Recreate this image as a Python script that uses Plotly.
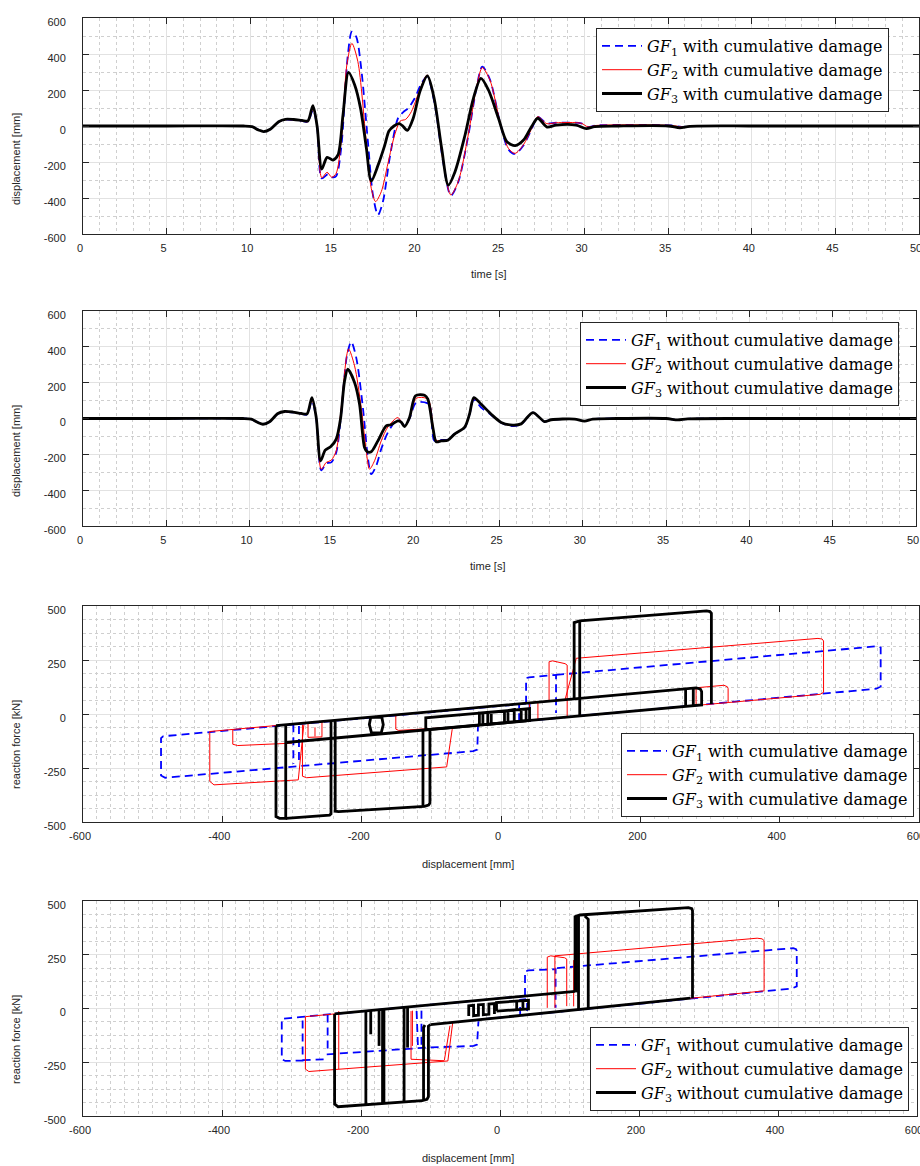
import plotly.graph_objects as go

# ---------------- Panel 1: displacement time histories, with cumulative damage ----------------
t_cd_gf1 = [0, 5, 9.6, 10.1, 10.5, 10.8, 11.2, 11.7, 12.1, 12.6, 13.1, 13.45, 13.75, 14.0, 14.28, 14.64, 14.9, 15.14,
            15.44, 15.84, 16.08, 16.34, 16.64, 17.04, 17.34, 17.64, 17.94, 18.34, 18.84, 19.14, 19.44, 19.84, 20.24,
            20.58, 21.04, 21.54, 22.0, 22.44, 23.04, 23.54, 23.88, 24.34, 24.94, 25.44, 25.84, 26.34, 26.84, 27.2,
            27.74, 28.3, 29.8, 30.2, 30.7, 35.2, 35.8, 36.5, 40, 50]
d_cd_gf1 = [0, 0, 0, -4, -22, -31, -18, 22, 35, 34, 29, 22, 90, 0, -291, -268, -285, -278,
            -124, 394, 524, 496, 320, -87, -383, -494, -420, -180, 43, 76, 98, 154, 237,
            274, 120, -200, -387, -312, -55, 215, 330, 258, 20, -130, -155, -108, -15, 50,
            15, 18, 15, -5, 3, 3, -5, 0, 0, 0]

t_cd_gf2 = [0, 5, 9.6, 10.1, 10.5, 10.8, 11.2, 11.7, 12.1, 12.6, 13.1, 13.45, 13.75, 14.0, 14.28, 14.6, 14.88, 15.14,
            15.44, 15.78, 16.08, 16.44, 16.94, 17.24, 17.5, 17.84, 18.24, 18.64, 18.98, 19.3, 19.64, 20.14, 20.58,
            21.04, 21.54, 22.0, 22.44, 23.04, 23.54, 23.88, 24.34, 24.94, 25.44, 25.84, 26.34, 26.84, 27.2, 27.74,
            28.3, 29.8, 30.2, 30.7, 35.2, 35.8, 36.5, 40, 50]
d_cd_gf2 = [0, 0, 0, -4, -22, -31, -18, 22, 35, 34, 29, 24, 95, 0, -287, -257, -285, -263,
            -87, 339, 459, 357, -87, -346, -420, -365, -207, -50, 28, 37, 80, 200, 283,
            126, -198, -383, -309, -50, 218, 324, 255, 24, -124, -152, -105, -13, 52, 13,
            18, 15, -5, 3, 3, -5, 0, 0, 0]

t_cd_gf3 = [0, 5, 9.6, 10.1, 10.5, 10.8, 11.2, 11.7, 12.1, 12.6, 13.1, 13.45, 13.75, 14.0, 14.28, 14.6, 14.95, 15.25,
            15.55, 15.88, 16.25, 16.6, 16.95, 17.24, 17.65, 18.05, 18.3, 18.6, 18.9, 19.1, 19.4, 19.75, 20.15, 20.6,
            21.0, 21.45, 21.85, 22.25, 22.85, 23.35, 23.8, 24.25, 24.85, 25.35, 25.85, 26.35, 26.85, 27.2, 27.75,
            28.3, 29.5, 30.1, 30.6, 32, 35, 35.7, 36.3, 40, 45, 50]
d_cd_gf3 = [0, 0, 0, -4, -22, -31, -18, 24, 37, 36, 31, 28, 113, 0, -239, -174, -189, -161,
            61, 298, 228, 98, -124, -306, -217, -106, -28, 0, 13, 2, -24, 43, 191, 278,
            154, -124, -328, -254, -50, 154, 265, 200, 43, -87, -109, -78, 0, 43, -6,
            5, 5, -15, -3, 0, 0, -10, -2, 0, 0, 0]

# ---------------- Panel 2: displacement time histories, without cumulative damage ----------------
t_nc_gf1 = [0, 5, 9.6, 10.1, 10.5, 10.8, 11.2, 11.7, 12.1, 12.6, 13.1, 13.45, 13.74, 14.0, 14.3, 14.6, 14.9, 15.2,
            15.5, 15.84, 16.1, 16.4, 16.8, 17.1, 17.3, 17.6, 17.9, 18.3, 18.9, 19.3, 19.6, 20.0, 20.66, 20.85, 21.1,
            21.5, 21.9, 22.3, 22.9, 23.2, 23.46, 23.9, 24.5, 25.1, 25.8, 26.3, 27.0, 27.7, 28.1, 29.5, 30.1, 30.6,
            32, 35, 35.7, 36.3, 40, 50]
d_nc_gf1 = [0, 0, 0, -4, -22, -32, -18, 26, 37, 34, 26, 22, 100, 0, -290, -250, -245, -190,
            30, 350, 428, 340, 61, -218, -311, -264, -171, -78, -4, -40, 0, 89, 86, 60, -125,
            -120, -118, -87, -52, 22, 105, 61, 20, -24, -42, -32, 33, -17, -7, -3, -15, -3,
            0, 0, -8, -2, 0, 0]

t_nc_gf2 = [0, 5, 9.6, 10.1, 10.5, 10.8, 11.2, 11.7, 12.1, 12.6, 13.1, 13.45, 13.74, 14.0, 14.3, 14.6, 14.9, 15.2,
            15.5, 15.94, 16.3, 16.7, 17.0, 17.2, 17.5, 17.9, 18.3, 18.9, 19.3, 19.6, 20.0, 20.6, 20.8, 21.2, 21.5,
            21.9, 22.3, 22.9, 23.2, 23.46, 23.9, 24.5, 25.1, 25.8, 26.3, 27.0, 27.7, 28.1, 29.5, 30.1, 30.6, 32,
            35, 35.7, 36.3, 40, 50]
d_nc_gf2 = [0, 0, 0, -4, -22, -32, -18, 26, 37, 34, 26, 24, 105, 0, -283, -245, -233, -180,
            61, 387, 294, 61, -180, -283, -236, -125, -47, 5, -45, 0, 113, 113, 90, -121, -122,
            -120, -87, -50, 24, 110, 80, 25, -24, -40, -32, 33, -17, -7, -3, -15, -3, 0,
            0, -8, -2, 0, 0]

t_nc_gf3 = [0, 5, 9.6, 10.1, 10.5, 10.8, 11.2, 11.7, 12.1, 12.6, 13.1, 13.45, 13.74, 14.0, 14.26, 14.54, 14.86, 15.2,
            15.46, 15.7, 15.9, 16.3, 16.6, 16.9, 17.06, 17.3, 17.7, 18.2, 18.5, 18.9, 19.1, 19.3, 19.6, 19.96, 20.5,
            20.7, 21.0, 21.2, 21.5, 21.9, 22.3, 22.9, 23.2, 23.46, 23.9, 24.5, 25.1, 25.8, 26.3, 27.0, 27.7, 28.1,
            29.5, 30.1, 30.6, 32, 35, 35.7, 36.3, 40, 45, 50]
d_nc_gf3 = [0, 0, 0, -4, -22, -32, -18, 28, 39, 36, 28, 26, 117, 5, -236, -177, -158, -115,
            0, 210, 275, 201, 80, -162, -186, -186, -125, -41, -35, -13, -20, -45, 6, 127, 130,
            108, -50, -130, -125, -121, -87, -50, 24, 117, 80, 24, -22, -37, -30, 33, -17, -7,
            -3, -15, -3, 0, 0, -8, -2, 0, 0, 0]

# ---------------- Panel 3: force-displacement loops, with cumulative damage ----------------
N = None
hx_cd_gf1 = [36, -485, -488, -488, -482, -40, -34, -33, N,
             36, 36, 40, 79, 79, N,
             79, 541, 545, 545, 539, -33, N,
             -298, -298, N, -290, -290, N,
             26, 26, 41, 41]
hy_cd_gf1 = [48, -103, -112, -285, -295, -172, -165, -52, N,
             48, 166, 170, 181, 5, N,
             181, 314, 308, 127, 117, -52, N,
             -48, -232, N, -56, -228, N,
             -34, 45, 50, -30]

hx_cd_gf2 = [320, -418, -418, -412, -291, -283, N,
             320, 325, 326, 326, -70, N,
             -285, -285, -279, -78, -70, N,
             -300, -378, -385, -385, N,
             -277, -277, -257, -257, N, -267, -267, N,
             -72, -147, -151, -151, -146, -72, N,
             41, 41, 53, 53, N,
             69, 69, 74, 92, 95, 95, N,
             92, 108, 455, 461, 463, 463, 458, 326, N,
             280, 280]
hy_cd_gf2 = [133, -81, -312, -328, -305, -50, N,
             133, 126, 118, 53, -62, N,
             -50, -288, -295, -245, -70, N,
             -135, -146, -140, -72, N,
             -42, -108, -106, -35, N, -104, -62, N,
             -62, -76, -70, -8, -3, 18, N,
             -30, 52, 55, -27, N,
             60, 242, 246, 233, 226, -14, N,
             67, 258, 350, 347, 338, 100, 91, 53, N,
             121, 39]

hx_cd_gf3 = [-323, 280, 286, 288, 288, -309, N,
             265, 265, N, 276, 276, N,
             105, 105, 113, 295, 300, 302, 302, N, 113, 113, N,
             -323, -323, -318, -309, -309, N,
             -309, -246, -244, -244, N,
             -238, -238, -233, -110, -104, -102, -102, N,
             -112, -112, N,
             -187, -189, -186, -172, -169, -171, -187, N,
             -31, -108, -108, -31, N,
             -31, -31, 41, 41, -26, -26, 36, 36, -19, -19, 29, 29, -14, -14, 19, 19, 5, 5, 10, 10]
hy_cd_gf3 = [-54, 121, 116, 104, 42, -132, N,
             117, 35, N, 120, 38, N,
             70, 423, 431, 477, 474, 466, 46, N, 431, -9, N,
             -54, -475, -483, -483, -50, N,
             -483, -468, -462, -31, N,
             -29, -450, -452, -428, -422, -412, -72, N,
             -428, -74, N,
             -16, -48, -86, -88, -50, -16, -16, N,
             -51, -73, -18, 4, N,
             -51, 4, 25, -30, -50, 5, 23, -32, -48, 7, 21, -34, -46, 9, 19, -36, -41, 14, 16, -39]

# ---------------- Panel 4: force-displacement loops, without cumulative damage ----------------
hx_nc_gf1 = [36, -314, -314, -309, -284, -284, N,
             -284, -248, N,
             -248, -248, -106, -38, -33, -31, N,
             -120, -118, N, -113, -113, N,
             36, 36, 41, 80, 80, N,
             82, 422, 426, 427, 427, 420, -31, N,
             29, 29, 39, 39]
hy_nc_gf1 = [58, -48, -236, -244, -242, -43, N,
             -240, -236, N,
             -28, -213, -182, -174, -168, -59, N,
             -12, -182, N, -10, -180, N,
             58, 173, 177, 183, 3, N,
             188, 281, 276, 268, 103, 93, -52, N,
             -30, 40, 44, -25]

hx_nc_gf2 = [68, -280, -280, -275, -75, -68, N,
             -128, -128, -80, N, -80, -72, N,
             -232, -232, N, -126, -126, N,
             68, 68, 73, 93, 96, 96, N,
             79, 79, 370, 377, 380, 380, 374, -68, N,
             106, 106]
hy_nc_gf2 = [68, -38, -282, -293, -244, -64, N,
             -12, -236, -243, N, -240, -80, N,
             -12, -282, N, -10, -174, N,
             3, 239, 245, 236, 230, 11, N,
             3, 245, 327, 324, 316, 82, 80, -64, N,
             10, 225]

hx_nc_gf3 = [-238, 108, N, -100, 274, N,
             108, 108, 115, 271, 276, 277, 277, N,
             113, 113, N, 110, 110, N, 127, 127, 122, N,
             -238, -238, -233, -112, -105, -103, -103, -100, N,
             -108, -110, -110, N,
             -193, -193, N, -169, -169, N, -167, -167, N, -138, -138, N,
             -186, -186, N, -174, -174, N, -133, -133, N,
             -45, -45, -38, -38, -31, -31, -24, -24, -16, -16, -8, -8, N,
             -5, -5, 41, 41, -5, N, 24, 24, N, 33, 33]
hy_nc_gf3 = [-25, 80, N, -75, 48, N,
             80, 427, 435, 469, 464, 455, 48, N,
             435, -5, N, 432, 75, N, -1, 415, 430, N,
             -25, -444, -457, -429, -422, -410, -82, -75, N,
             -77, -88, -426, N,
             -11, -447, N, -4, -441, N, -4, -441, N, 5, -435, N,
             -10, -120, N, -6, -174, N, 7, -182, N,
             -35, 13, 15, -33, -31, 17, 19, -29, -27, 21, 23, -25, N,
             -12, 28, 38, -2, -12, N, 34, -6, N, 36, -4]

# ---------------- tick labels ----------------
time_ticks = [0, 5, 10, 15, 20, 25, 30, 35, 40, 45, 50]
time_labels = ["0", "5", "10", "15", "20", "25", "30", "35", "40", "45", "50"]
disp_ticks = [-600, -400, -200, 0, 200, 400, 600]
disp_labels = ["-600", "-400", "-200", "0", "200", "400", "600"]
force_ticks = [-500, -250, 0, 250, 500]
force_labels = ["-500", "-250", "0", "250", "500"]

names_cd = ["<i>GF</i><sub>1</sub> with cumulative damage",
            "<i>GF</i><sub>2</sub> with cumulative damage",
            "<i>GF</i><sub>3</sub> with cumulative damage"]
names_nc = ["<i>GF</i><sub>1</sub> without cumulative damage",
            "<i>GF</i><sub>2</sub> without cumulative damage",
            "<i>GF</i><sub>3</sub> without cumulative damage"]

styles = [dict(color="#0000ff", width=1.8, dash="8px,5px"),
          dict(color="#ff0000", width=1.0, dash="solid"),
          dict(color="#000000", width=2.8, dash="solid")]

W, H = 920, 1166
fig = go.Figure()

panels = [
    (1, [(t_cd_gf1, d_cd_gf1), (t_cd_gf2, d_cd_gf2), (t_cd_gf3, d_cd_gf3)], names_cd, "legend", True),
    (2, [(t_nc_gf1, d_nc_gf1), (t_nc_gf2, d_nc_gf2), (t_nc_gf3, d_nc_gf3)], names_nc, "legend2", True),
    (3, [(hx_cd_gf1, hy_cd_gf1), (hx_cd_gf2, hy_cd_gf2), (hx_cd_gf3, hy_cd_gf3)], names_cd, "legend3", False),
    (4, [(hx_nc_gf1, hy_nc_gf1), (hx_nc_gf2, hy_nc_gf2), (hx_nc_gf3, hy_nc_gf3)], names_nc, "legend4", False),
]
for idx, series, names, leg, smooth in panels:
    suffix = "" if idx == 1 else str(idx)
    for (xs, ys), nm, st in zip(series, names, styles):
        line = dict(st)
        if smooth:
            line.update(shape="spline", smoothing=0.8)
        fig.add_trace(go.Scatter(x=xs, y=ys, mode="lines", name=nm, line=line,
                                 connectgaps=False, legend=leg,
                                 xaxis="x" + suffix, yaxis="y" + suffix))

tickfont = dict(family="Liberation Sans, Arial, sans-serif", size=11, color="#262626")


def ax(domain, rng, tv, tt, minor_dt, anchor, is_y):
    d = dict(domain=domain, range=rng, tickmode="array", tickvals=tv, ticktext=tt,
             showline=True, linecolor="#262626", linewidth=1, mirror="ticks",
             ticks="inside", ticklen=6, tickwidth=1, tickcolor="#262626",
             showgrid=True, gridcolor="#e2e2e2", gridwidth=1, zeroline=False,
             tickfont=tickfont, anchor=anchor, fixedrange=True, automargin=False,
             ticklabeloverflow="allow",
             minor=dict(dtick=minor_dt, tick0=0, showgrid=True, gridcolor="#cfcfcf",
                        griddash="dot", gridwidth=1, ticks=""))
    if is_y:
        d.update(ticklabelstandoff=14, ticklabelshift=4)
    else:
        d.update(ticklabelstandoff=4, ticklabelshift=-3)
    return d


# plot areas in pixels: (left, right, top, bottom)
boxes = [(83, 919, 18, 234), (83, 916, 311, 526), (83, 919, 606, 822), (83, 917, 901, 1116)]
layout = dict(width=W, height=H, margin=dict(l=0, r=0, t=0, b=0, autoexpand=False),
              paper_bgcolor="white", plot_bgcolor="white", showlegend=True)
for i, (l, r, t, b) in enumerate(boxes, start=1):
    suffix = "" if i == 1 else str(i)
    xd = [l / W, r / W]
    yd = [1 - b / H, 1 - t / H]
    if i <= 2:
        layout["xaxis" + suffix] = ax(xd, [0, 50], time_ticks, time_labels, 1, "y" + suffix, False)
        layout["yaxis" + suffix] = ax(yd, [-600, 600], disp_ticks, disp_labels, 100, "x" + suffix, True)
    else:
        layout["xaxis" + suffix] = ax(xd, [-600, 600], disp_ticks, disp_labels, 20, "y" + suffix, False)
        layout["yaxis" + suffix] = ax(yd, [-500, 500], force_ticks, force_labels, 62.5, "x" + suffix, True)

legfont = dict(family="DejaVu Serif, Liberation Serif, serif", size=16, color="#000000")
legcommon = dict(bgcolor="white", bordercolor="#262626", borderwidth=1, font=legfont,
                 itemwidth=40, tracegroupgap=0, traceorder="normal")
layout["legend"] = dict(legcommon, x=889 / W, xanchor="right", y=1 - 28 / H, yanchor="top")
layout["legend2"] = dict(legcommon, x=899 / W, xanchor="right", y=1 - 322 / H, yanchor="top")
layout["legend3"] = dict(legcommon, x=914 / W, xanchor="right", y=1 - 817 / H, yanchor="bottom")
layout["legend4"] = dict(legcommon, x=909 / W, xanchor="right", y=1 - 1111 / H, yanchor="bottom")

titlefont = dict(family="Liberation Sans, Arial, sans-serif", size=11, color="#262626")
ann = []
for txt, cx, cy in [("time [s]", 488, 274), ("time [s]", 487, 566),
                    ("displacement [mm]", 468, 864), ("displacement [mm]", 468, 1158)]:
    ann.append(dict(text=txt, x=cx / W, y=1 - cy / H, xref="paper", yref="paper",
                    xanchor="center", yanchor="middle", showarrow=False, font=titlefont))
for txt, cx, cy in [("displacement [mm]", 16, 159), ("displacement [mm]", 16, 451),
                    ("reaction force [kN]", 16, 745), ("reaction force [kN]", 16, 1040)]:
    ann.append(dict(text=txt, x=cx / W, y=1 - cy / H, xref="paper", yref="paper", textangle=-90,
                    xanchor="center", yanchor="middle", showarrow=False, font=titlefont))
layout["annotations"] = ann

fig.update_layout(**layout)
fig.write_html("out.html", config={"displayModeBar": False},
               post_script="document.body.style.margin='0px';document.body.style.overflow='hidden';")
